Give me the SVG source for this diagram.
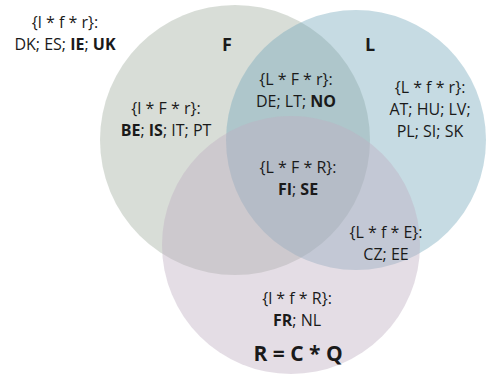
<svg xmlns="http://www.w3.org/2000/svg" width="488" height="379" viewBox="0 0 488 379">
<style>
text{font-family:"Open Sans","Noto Sans","Liberation Sans",sans-serif;font-size:16px;fill:#1a1a1a;text-anchor:middle}
.b{font-weight:bold}
.t{font-weight:bold;font-size:18px}
.big{font-weight:bold;font-size:21px}
</style>
<rect width="488" height="379" fill="#ffffff"/>
<g id="circle-F"><circle cx="235" cy="140" r="135" fill="#9daa9b" fill-opacity="0.4"/></g>
<g id="circle-L"><circle cx="356" cy="140" r="130" fill="#70a5b9" fill-opacity="0.4"/></g>
<g id="circle-R"><circle cx="291" cy="245" r="129" fill="#beafc0" fill-opacity="0.42"/></g>
<g id="connectors"></g>
<g id="outside"><text x="65" y="28">{l * f * r}:</text><text x="65" y="50">DK; ES; <tspan class="b">IE</tspan>; <tspan class="b">UK</tspan></text></g>
<g id="label-F"><text class="t" x="227" y="51">F</text></g>
<g id="label-L"><text class="t" x="370" y="51">L</text></g>
<g id="region-F"><text x="166" y="114">{l * F * r}:</text><text x="166" y="136"><tspan class="b">BE</tspan>; <tspan class="b">IS</tspan>; IT; PT</text></g>
<g id="region-LF"><text x="296" y="85">{L * F * r}:</text><text x="296" y="107">DE; LT; <tspan class="b">NO</tspan></text></g>
<g id="region-L"><text x="430" y="93">{L * f * r}:</text><text x="430" y="115">AT; HU; LV;</text><text x="430" y="137">PL; SI; SK</text></g>
<g id="region-LFR"><text x="298" y="173">{L * F * R}:</text><text x="298" y="195"><tspan class="b">FI</tspan>; <tspan class="b">SE</tspan></text></g>
<g id="region-LR"><text x="386" y="238">{L * f * E}:</text><text x="386" y="260">CZ; EE</text></g>
<g id="region-R"><text x="297" y="304">{l * f * R}:</text><text x="297" y="326"><tspan class="b">FR</tspan>; NL</text><text class="big" x="298" y="361">R = C * Q</text></g>
</svg>
